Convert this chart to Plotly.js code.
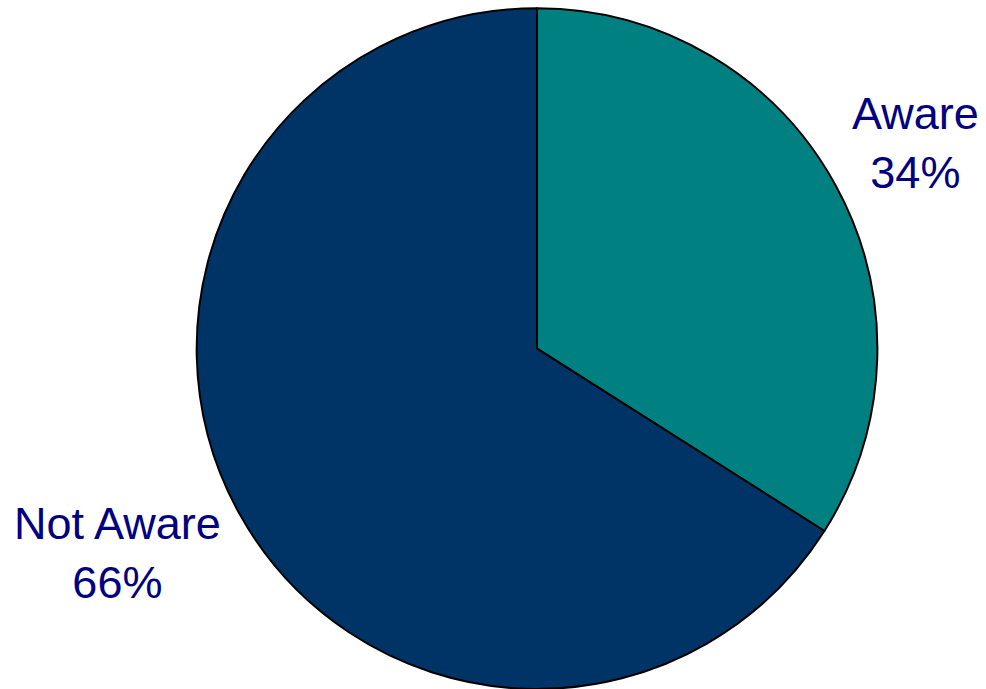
<!DOCTYPE html>
<html>
<head>
<meta charset="utf-8">
<script src="https://cdn.plot.ly/plotly-3.0.1.min.js"></script>
<style>html,body{margin:0;padding:0;background:#fff;}#chart{width:986px;height:689px;}</style>
</head>
<body>
<div id="chart"></div>
<script>
const categories = ["Aware", "Not Aware"];
const shares = [34, 66];
const sliceColors = ["#008080", "#003366"];
const labelPos = [[0.9285, 0.792], [0.1187, 0.197]];

const trace = {
  type: "pie",
  labels: categories,
  values: shares,
  sort: false,
  direction: "clockwise",
  rotation: 0,
  textinfo: "none",
  hoverinfo: "label+percent",
  marker: { colors: sliceColors, line: { color: "#000000", width: 2 } },
  domain: { x: [0.1978, 0.8915], y: [0.0, 0.988] },
  showlegend: false
};

const annotations = categories.map((c, i) => ({
  text: c + "<br>" + shares[i] + "%",
  xref: "paper", yref: "paper",
  x: labelPos[i][0], y: labelPos[i][1],
  xanchor: "center", yanchor: "middle",
  showarrow: false,
  align: "center",
  font: { family: "Liberation Sans, Arial, sans-serif", size: 45, color: "#000080" }
}));

Plotly.newPlot("chart", [trace], {
  width: 986, height: 689,
  margin: { l: 0, r: 0, t: 0, b: 0 },
  paper_bgcolor: "#ffffff",
  annotations: annotations
}, { staticPlot: true });
</script>
</body>
</html>
